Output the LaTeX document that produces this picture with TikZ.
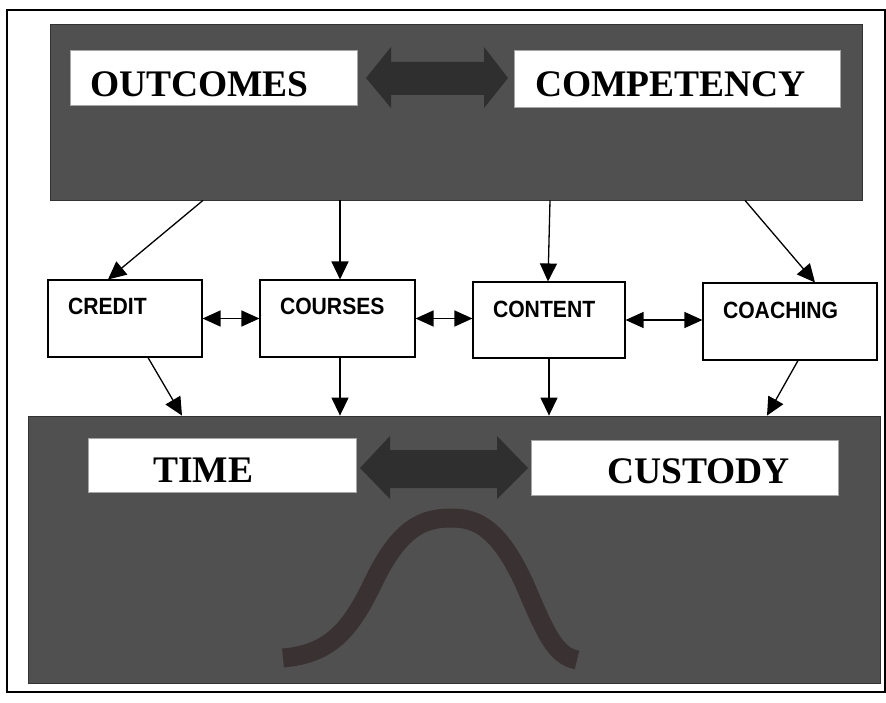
\documentclass[tikz,border=0pt]{standalone}
\usepackage{fontspec}
\setmainfont{Liberation Serif}
\setsansfont{Liberation Sans}[FakeStretch=0.9]
\usetikzlibrary{arrows.meta}
\definecolor{bandgray}{HTML}{505050}
\definecolor{arrowgray}{HTML}{2F2F2F}
\definecolor{curvecol}{HTML}{3A3232}
\tikzset{
  band/.style={fill=bandgray, draw=black!80, line width=0.8pt, inner sep=0pt},
  titlebox/.style={fill=white, draw=black!35, line width=0.6pt, inner ysep=0pt, align=left,
     font=\rmfamily\bfseries\fontsize{37.5}{40}\selectfont},
  midbox/.style={fill=white, draw=black, line width=1.1pt, inner ysep=0pt, inner xsep=20pt,
     align=left, text height=35pt, text depth=42pt,
     font=\sffamily\bfseries\fontsize{23.5}{26}\selectfont},
  conn/.style={line width=1.3pt, -{Triangle[length=18pt,width=17pt]}},
  dconn/.style={line width=1.3pt, {Triangle[length=18pt,width=16pt]}-{Triangle[length=18pt,width=16pt]}},
}
\begin{document}
\begin{tikzpicture}[x=1pt,y=-1pt]
\useasboundingbox (0,0) rectangle (886,703);
\fill[white] (0,0) rectangle (886,703);
\draw[line width=1.6pt] (7,10) rectangle (885,692);

% bands
\node[band, minimum width=812pt, minimum height=176pt] (top) at (456,112) {};
\node[band, minimum width=852pt, minimum height=267pt] (bottom) at (454,549.5) {};

% block double arrows
\fill[arrowgray] (366,78) -- (391,47) -- (391,62) -- (484,62) -- (484,47) -- (508,78)
  -- (484,108) -- (484,95) -- (391,95) -- (391,108) -- cycle;
\fill[arrowgray] (360,468) -- (390,436) -- (390,450) -- (497,450) -- (497,436) -- (528,468)
  -- (497,499) -- (497,488) -- (390,488) -- (390,499) -- cycle;

% title boxes
\node[titlebox, inner xsep=20pt, text width=247pt, text height=47pt, text depth=8pt] (outcomes) at (213.5,77.5) {OUTCOMES};
\node[titlebox, inner xsep=21pt, text width=284pt, text height=47pt, text depth=10pt] (competency) at (677,78.5) {COMPETENCY};
\node[titlebox, inner xsep=65pt, text width=138pt, text height=44pt, text depth=10pt] (time) at (222,465) {TIME};
\node[titlebox, inner xsep=76pt, text width=155pt, text height=43pt, text depth=12pt] (custody) at (684.5,467.5) {CUSTODY};

% middle boxes
\node[midbox, text width=114pt] (credit) at (125,318.5) {CREDIT};
\node[midbox, text width=115pt] (courses) at (337.5,318.5) {COURSES};
\node[midbox, text width=112pt, text depth=41pt] (content) at (549,320) {CONTENT};
\node[midbox, text width=134pt] (coaching) at (790,321.5) {COACHING};

% top arrows
\draw[conn] ([xshift=-253pt]top.south) -- ([xshift=-17pt]credit.north);
\draw[conn] ([xshift=-116pt]top.south) -- ([xshift=2.5pt]courses.north);
\draw[conn] ([xshift=94pt]top.south) -- ([xshift=-1pt]content.north);
\draw[conn] ([xshift=289pt]top.south) -- ([xshift=25pt]coaching.north);

% bottom arrows
\draw[conn] ([xshift=23pt]credit.south) -- ([xshift=-272pt]bottom.north);
\draw[conn] ([xshift=2.5pt]courses.south) -- ([xshift=-114pt]bottom.north);
\draw[conn] (content.south) -- ([xshift=95pt]bottom.north);
\draw[conn] ([xshift=8pt]coaching.south) -- ([xshift=313pt]bottom.north);

% horizontal double arrows
\draw[dconn] (credit.east) -- (courses.west);
\draw[dconn] (courses.east) -- (courses.east -| content.west);
\draw[dconn] (content.east) -- (content.east -| coaching.west);

% bell curve
\draw[curvecol, line width=19pt] (283,658) .. controls (330,654) and (350,630) .. (372,585)
  .. controls (400,525) and (425,518) .. (452,518)
  .. controls (478,518) and (500,530) .. (525,585)
  .. controls (545,632) and (555,656) .. (577,660);
\end{tikzpicture}
\end{document}
